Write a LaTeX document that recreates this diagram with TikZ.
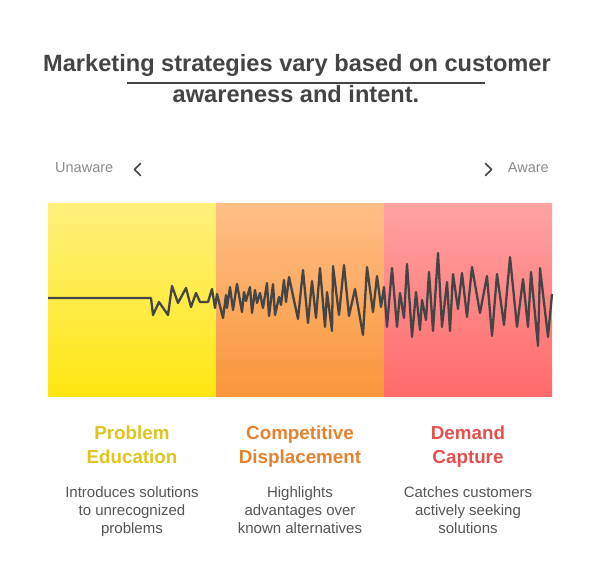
\documentclass[tikz,border=0pt]{standalone}
\usepackage{fontspec}
\setmainfont{Liberation Sans}
\usetikzlibrary{positioning}
\definecolor{titleGray}{HTML}{444444}
\definecolor{sideGray}{HTML}{8A8A8A}
\definecolor{bodyGray}{HTML}{555555}
\definecolor{waveGray}{HTML}{454545}
\definecolor{eduTop}{HTML}{FFF07C}
\definecolor{eduBot}{HTML}{FFE712}
\definecolor{dispTop}{HTML}{FFBE86}
\definecolor{dispBot}{HTML}{F9963A}
\definecolor{capTop}{HTML}{FFA2A2}
\definecolor{capBot}{HTML}{FF6A6A}
\definecolor{eduText}{HTML}{E2C31D}
\definecolor{dispText}{HTML}{E5822F}
\definecolor{capText}{HTML}{E5504F}
\tikzset{
    band/.style={rectangle, draw=none, inner sep=0pt, outer sep=0pt, minimum width=168pt, minimum height=192pt},
    heading/.style={font=\bfseries\fontsize{23.6}{30}\selectfont, text=titleGray, inner sep=0pt, anchor=base},
    sideLabel/.style={font=\fontsize{14.5}{18}\selectfont, text=sideGray, inner sep=0pt, anchor=base},
    stageName/.style={font=\bfseries\fontsize{18.8}{24}\selectfont, align=center, inner sep=0pt, anchor=base},
    stageText/.style={font=\fontsize{15}{18}\selectfont, text=bodyGray, align=center, inner sep=0pt, anchor=base},
    chevron/.style={draw=titleGray, line width=1.7pt, line cap=round, line join=round},
    titleRule/.style={draw=titleGray, line width=1.4pt},
    wave/.style={draw=waveGray, line width=2.3pt, line join=round},
}

\begin{document}
\begin{tikzpicture}[x=1pt, y=-1pt]
    \useasboundingbox (0,0) rectangle (600,588);

    % title
    \node[heading] (title1) at (297,72) {Marketing strategies vary based on customer};
    \node[heading] (title2) at (296,103) {awareness and intent.};
    \coordinate (ruleL) at (127,83);
    \coordinate (ruleR) at (485,83);
    \draw[titleRule] (ruleL) -- (ruleR);

    % scale ends
    \node[sideLabel, anchor=base west] (unaware) at (55,173) {Unaware};
    \node[sideLabel, anchor=base east] (aware) at (549,173) {Aware};
    \draw[chevron] (140.5,163.5) -- (134.5,169.5) -- (140.5,175.5);
    \draw[chevron] (485.5,163.5) -- (491.5,169.5) -- (485.5,175.5);

    % bands
    \node[band, top color=eduTop, bottom color=eduBot] (eduBand) at (132,300) {};
    \node[band, top color=dispTop, bottom color=dispBot] (dispBand) at (300,300) {};
    \node[band, top color=capTop, bottom color=capBot] (capBand) at (468,300) {};

    % signal
    \draw[wave] plot coordinates {
        (48,298) (151,298) (153,315) (159,302) (168,315) (172,286) (178,303)
        (186,288) (191,307) (196,293) (200,302) (208,302) (212,289) (215,308)
        (217,294) (223,318) (226,295) (227,308) (230,287) (233,310) (237,284)
        (242,312) (244,292) (246,301) (250,287) (252,313) (255,290) (257,303)
        (260,293) (263,308) (267,283) (269,316) (273,284) (275,315) (279,297)
        (281,305) (284,280) (286,302) (289,277) (298,319) (303,270) (308,323)
        (312,281) (316,318) (320,268) (325,327) (327,292) (332,331) (333,266)
        (339,315) (344,265) (349,316) (355,289) (363,335) (367,267) (373,312)
        (377,276) (381,307) (384,287) (387,327) (392,268) (397,327) (400,293)
        (404,318) (407,264) (412,337) (416,292) (420,330) (422,300) (426,320)
        (429,272) (433,331) (438,253) (442,327) (447,282) (450,331) (453,274)
        (458,309) (462,273) (467,317) (472,267) (480,313) (487,276) (492,336)
        (497,274) (504,325) (510,257) (517,327) (523,279) (528,327) (531,272)
        (538,346) (540,268) (548,337) (552,294)
    };

    % stage 1 (base = last line)
    \node[stageName, text=eduText] (eduName) at (132,463) {Problem\\Education};
    \node[stageText] (eduText) at (132,533) {Introduces solutions\\to unrecognized\\problems};

    % stage 2
    \node[stageName, text=dispText] (dispName) at (300,463) {Competitive\\Displacement};
    \node[stageText] (dispText) at (300,533) {Highlights\\advantages over\\known alternatives};

    % stage 3
    \node[stageName, text=capText] (capName) at (468,463) {Demand\\Capture};
    \node[stageText] (capText) at (468,533) {Catches customers\\actively seeking\\solutions};

\end{tikzpicture}
\end{document}
